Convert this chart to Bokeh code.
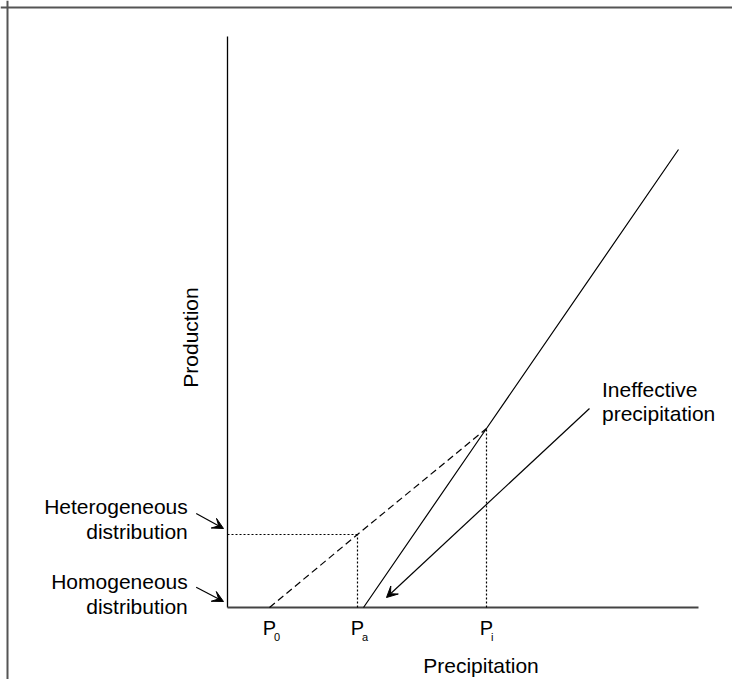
import math
from bokeh.plotting import figure
from bokeh.models import Range1d, Span, Arrow, VeeHead, ColumnDataSource
from bokeh.core.properties import value
from bokeh.embed import file_html
from bokeh.resources import INLINE

# ---- conceptual diagram values (axis units) ----
tick_x = [4.2, 13.0, 25.9]          # P0, Pa, Pi
tick_main = ["P", "P", "P"]
tick_sub = ["0", "a", "i"]

# heterogeneous distribution response (dashed)
dash_x = [4.2, 13.0, 25.9]
dash_y = [0.0, 7.3, 17.9]

# homogeneous distribution response (solid)
solid_x = [13.6, 25.9, 45.1]
solid_y = [0.0, 17.9, 45.8]

x_axis_max = 47.1
y_axis_max = 57.1

x_title = "Precipitation"
y_title = "Production"

left_labels = ["Heterogeneous", "distribution", "Homogeneous", "distribution"]
left_label_y = [10.1, 7.57, 2.6, 0.15]
left_label_x = -3.97

right_labels = ["Ineffective", "precipitation"]
right_label_y = [21.85, 19.4]
right_label_x = 37.45

# arrows: (x_start, y_start, x_end, y_end)
arrows = [
    (-3.13, 9.4, -0.4, 7.9),
    (-3.13, 2.03, -0.4, 0.6),
    (36.2, 19.9, 15.9, 1.0),
]

FONT = value("Liberation Sans")

x0, x1 = -22.7, 50.5
y0, y1 = -7.2, 60.7

p = figure(width=732, height=679, x_range=Range1d(x0, x1), y_range=Range1d(y0, y1),
           output_backend="svg", toolbar_location=None, min_border=0,
           x_axis_location=None, y_axis_location=None, outline_line_color=None,
           background_fill_color="white", border_fill_color="white")
p.grid.grid_line_color = None

# frame border (top and left edges visible)
p.add_layout(Span(location=y1 - 0.7, dimension="width", line_color="#555555", line_width=2))
p.add_layout(Span(location=x0 + 0.7, dimension="height", line_color="#555555", line_width=2))

# axes
p.line([0, 0], [0, y_axis_max], line_color="black", line_width=1.3)
p.line([0, x_axis_max], [0, 0], line_color="#444444", line_width=2)

# dotted guides
guide_xs = [[0, dash_x[1]], [dash_x[1], dash_x[1]], [tick_x[2], tick_x[2]]]
guide_ys = [[dash_y[1], dash_y[1]], [0, dash_y[1]], [0, solid_y[1]]]
p.multi_line(guide_xs, guide_ys, line_color="black", line_width=1.2, line_dash="2 2")

# response lines
p.line(dash_x, dash_y, line_color="black", line_width=1.2, line_dash="7 4")
p.line(solid_x, solid_y, line_color="black", line_width=1.2)

# arrows
for xs, ys, xe, ye in arrows:
    p.add_layout(Arrow(end=VeeHead(size=11, fill_color="black", line_color="black"),
                       x_start=xs, y_start=ys, x_end=xe, y_end=ye,
                       line_color="black", line_width=1.2))

# tick labels with subscripts
tick_src = ColumnDataSource(dict(x=tick_x, t=tick_main, s=tick_sub))
p.text(x="x", y=-2.0, text="t", source=tick_src, text_font=FONT, text_font_size="20px",
       text_align="center", text_baseline="alphabetic", text_color="black")
p.text(x="x", y=-2.9, text="s", source=tick_src, text_font=FONT, text_font_size="11px",
       text_align="left", text_baseline="alphabetic", text_color="black", x_offset=4.5)

# axis titles
p.text(x=[25.35], y=[-5.83], text=[x_title], text_font=FONT, text_font_size="21px",
       text_align="center", text_baseline="alphabetic", text_color="black")
p.text(x=[-3.67], y=[27.0], text=[y_title], text_font=FONT, text_font_size="21px",
       text_align="center", text_baseline="alphabetic", text_color="black", angle=math.pi / 2)

# annotations
p.text(x=[left_label_x] * len(left_labels), y=left_label_y, text=left_labels, text_font=FONT,
       text_font_size="21px", text_align="right", text_baseline="alphabetic", text_color="black")
p.text(x=[right_label_x] * len(right_labels), y=right_label_y, text=right_labels, text_font=FONT,
       text_font_size="21px", text_align="left", text_baseline="alphabetic", text_color="black")

open("out.html", "w").write(file_html(p, INLINE))
